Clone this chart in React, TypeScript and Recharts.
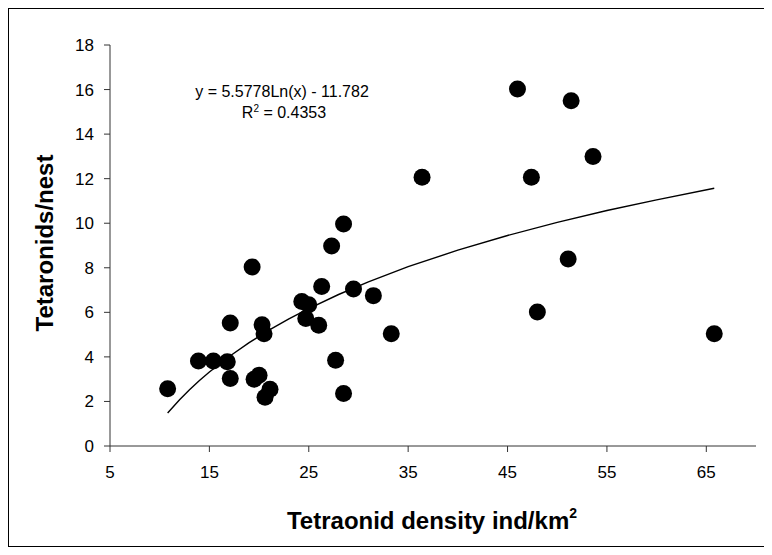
import { ScatterChart, Scatter, XAxis, YAxis } from "recharts";

// observed points: density (ind/km2) vs tetraonids per nest
const densityX = [
  10.8, 13.9, 15.4, 16.8, 17.1, 17.1, 19.3, 19.5, 20.0, 20.3, 20.5, 20.6, 21.1,
  24.3, 25.0, 24.7, 26.0, 26.3, 27.3, 27.7, 28.5, 28.5, 29.5, 31.5, 33.3, 36.4,
  46.0, 47.4, 48.0, 51.1, 51.4, 53.6, 65.8,
];
const perNestY = [
  2.57, 3.82, 3.82, 3.78, 3.03, 5.52, 8.04, 3.0, 3.18, 5.44, 5.04, 2.19, 2.55,
  6.49, 6.34, 5.72, 5.42, 7.16, 8.98, 3.85, 9.96, 2.36, 7.05, 6.75, 5.04, 12.06,
  16.03, 12.06, 6.02, 8.39, 15.5, 13.0, 5.04,
];

// trend curve
const trendX = [10.8, 12, 13, 14, 15, 17, 19, 21, 23, 25, 28, 31, 35, 40, 45, 50, 55, 60, 65.8];
const trendY = [1.48, 2.08, 2.52, 2.94, 3.32, 4.02, 4.64, 5.2, 5.71, 6.17, 6.8, 7.37, 8.05, 8.79, 9.45, 10.04, 10.57, 11.05, 11.57];

const xTicks = [5, 15, 25, 35, 45, 55, 65];
const yTicks = [0, 2, 4, 6, 8, 10, 12, 14, 16, 18];

const points = densityX.map((x, i) => ({ x, y: perNestY[i] }));
const trend = trendX.map((x, i) => ({ x, y: trendY[i] }));

const FONT = "'Liberation Sans', Arial, sans-serif";

const Dot = (props: any) => <circle cx={props.cx} cy={props.cy} r={8.5} fill="#000" />;

export default function App() {
  return (
    <div style={{ width: 757, height: 537, border: "1px solid #000", fontFamily: FONT }}>
      <ScatterChart width={757} height={537} margin={{ top: 36, right: 10, bottom: 70, left: 41 }}>
        <XAxis
          type="number"
          dataKey="x"
          domain={[5, 70]}
          ticks={xTicks}
          allowDataOverflow
          stroke="#333"
          tickSize={6}
          tickMargin={14}
          tick={{ fill: "#000", fontSize: 17, fontFamily: FONT }}
        />
        <YAxis
          type="number"
          dataKey="y"
          domain={[0, 18]}
          ticks={yTicks}
          stroke="#333"
          tickSize={6}
          tickMargin={10}
          tick={{ fill: "#000", fontSize: 17, fontFamily: FONT }}
        />
        <Scatter data={trend} line={{ stroke: "#000", strokeWidth: 1.4 }} lineType="joint" shape={() => null} isAnimationActive={false} />
        <Scatter data={points} fill="#000" shape={Dot} isAnimationActive={false} />
        <text
          x={44}
          y={234}
          transform="rotate(-90, 44, 234)"
          textAnchor="middle"
          fontFamily={FONT}
          fontWeight="bold"
          fontSize={24}
          fill="#000"
        >
          Tetaronids/nest
        </text>
        <text x={423} y={520} textAnchor="middle" fontFamily={FONT} fontWeight="bold" fontSize={24} fill="#000">
          Tetraonid density ind/km
          <tspan fontSize={14} dy={-11}>2</tspan>
        </text>
        <text x={273} y={88} textAnchor="middle" fontFamily={FONT} fontSize={16} fill="#000">
          y = 5.5778Ln(x) - 11.782
        </text>
        <text x={275} y={109} textAnchor="middle" fontFamily={FONT} fontSize={16} fill="#000">
          R<tspan fontSize={10} dy={-6}>2</tspan>
          <tspan dy={6}> = 0.4353</tspan>
        </text>
      </ScatterChart>
    </div>
  );
}
